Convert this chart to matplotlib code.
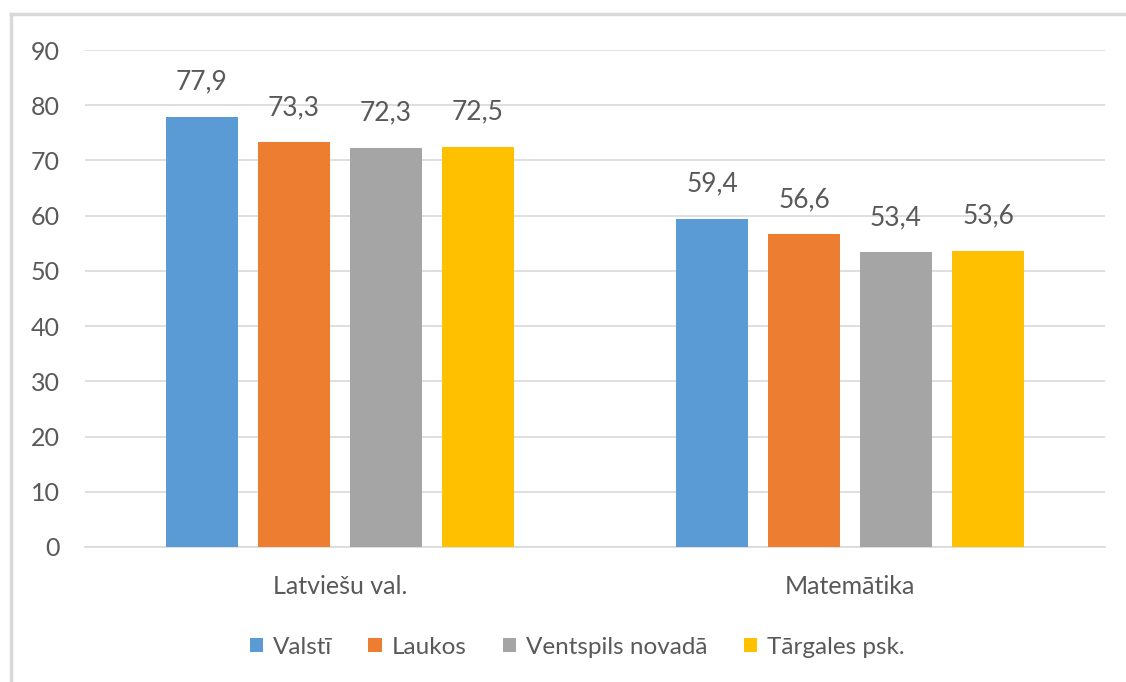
import matplotlib
matplotlib.use("Agg")
import matplotlib.pyplot as plt
import numpy as np

categories = ["Latviešu val.", "Matemātika"]
series = ["Valstī", "Laukos", "Ventspils novadā", "Tārgales psk."]
values = [
    [77.9, 59.4],
    [73.3, 56.6],
    [72.3, 53.4],
    [72.5, 53.6],
]
colors = ["#5b9bd5", "#ed7d31", "#a5a5a5", "#ffc000"]
yticks = [0, 10, 20, 30, 40, 50, 60, 70, 80, 90]

plt.rcParams["font.family"] = ["Lato", "DejaVu Sans"]
TXT = "#595959"

fig = plt.figure(figsize=(11.26, 6.82), dpi=100)
ax = fig.add_axes([85 / 1126, (682 - 547) / 682, (1105 - 85) / 1126, 497 / 682])

x = np.arange(len(categories))
step = 92 / 510
w = 72 / 510
for i, (name, vals) in enumerate(zip(series, values)):
    pos = x + (i - 1.5) * step
    bars = ax.bar(pos, vals, w, color=colors[i], label=name, zorder=3)
    for b, v in zip(bars, vals):
        ax.annotate(f"{v:.1f}".replace(".", ","), (b.get_x() + b.get_width() / 2, v),
                    xytext=(0, 16), textcoords="offset points", ha="center", va="bottom",
                    fontsize=19, color=TXT)

ax.set_xlim(-0.5, 1.5)
ax.set_ylim(0, 90)
ax.set_yticks(yticks)
ax.set_xticks(x)
ax.set_xticklabels(categories)
ax.grid(axis="y", color="#d9d9d9", linewidth=1.2, zorder=0)
for s in ["top", "right", "left"]:
    ax.spines[s].set_visible(False)
ax.spines["bottom"].set_color("#d9d9d9")
ax.spines["bottom"].set_linewidth(1.2)
ax.tick_params(axis="both", length=0, labelsize=18, colors=TXT)
ax.tick_params(axis="y", pad=18)
ax.tick_params(axis="x", pad=20)

leg = fig.legend(loc="center", bbox_to_anchor=(577 / 1126, 1 - 647 / 682), ncol=4,
                 frameon=False, fontsize=17.5, handlelength=0.55, handleheight=0.55,
                 columnspacing=1.5, handletextpad=0.4)
for t in leg.get_texts():
    t.set_color(TXT)

# outer chart frame (top and left edges visible)
fig.add_artist(plt.Line2D([11 / 1126, 11 / 1126], [0, 1 - 14 / 682], color="#d9d9d9", linewidth=2.5))
fig.add_artist(plt.Line2D([11 / 1126, 1], [1 - 14 / 682, 1 - 14 / 682], color="#d9d9d9", linewidth=2.5))

fig.savefig("out.png", dpi=100)
